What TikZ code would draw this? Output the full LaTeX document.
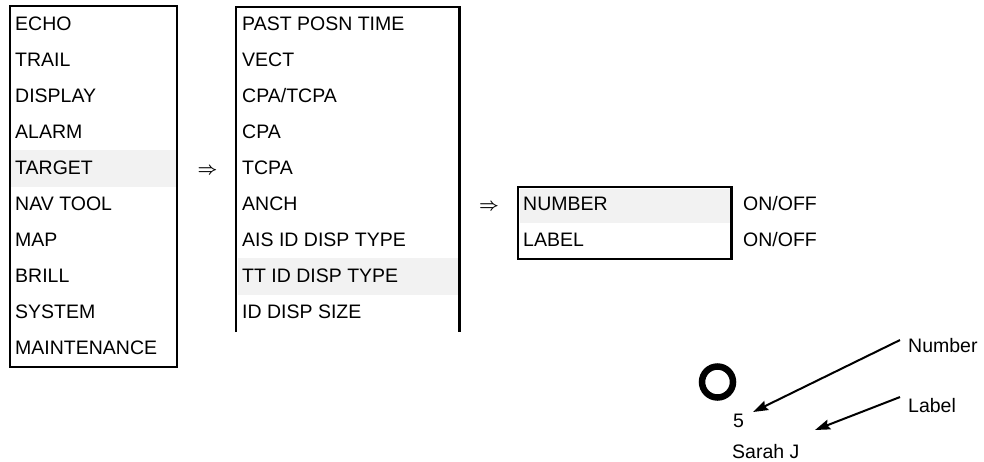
\documentclass[tikz,border=0pt]{standalone}
\usepackage{fontspec}
\setmainfont{Liberation Sans}
\usetikzlibrary{arrows.meta}
\definecolor{hlgray}{HTML}{F2F2F2}
\begin{document}
\begin{tikzpicture}[x=1pt,y=-1pt,
  menutext/.style={anchor=base west, inner sep=0pt, font=\fontsize{19.5}{22}\selectfont},
  frame/.style={line width=2.6pt},
  hl/.style={fill=hlgray, draw=none},
  goto/.style={inner sep=0pt, font=\fontsize{19}{21}\selectfont\boldmath},
  callout/.style={line width=2pt, -{Stealth[length=15pt,width=10pt,inset=2pt]}}]
\useasboundingbox (0,0) rectangle (984,461);
% highlights
\fill[hl] (11,150) rectangle (176,187);
\fill[hl] (237.5,258) rectangle (458,295);
\fill[hl] (519.5,188.5) rectangle (730,223);
% left menu
\foreach \t [count=\i from 0] in {ECHO,TRAIL,DISPLAY,ALARM,TARGET,NAV TOOL,MAP,BRILL,SYSTEM,MAINTENANCE}
  \node[menutext] (m\i) at (15,30+36*\i) {\t};
\draw[frame] (10,6) rectangle (177,367);
% sub menu
\foreach \t [count=\i from 0] in {PAST POSN TIME,VECT,CPA/TCPA,CPA,TCPA,ANCH,AIS ID DISP TYPE,TT ID DISP TYPE,ID DISP SIZE}
  \node[menutext] (s\i) at (242,30+36*\i) {\t};
\draw[frame] (236,332) -- (236,7) -- (459.5,7) -- (459.5,332);
% arrows between menus
\node[goto] (g1) at (207.5,171) {$\Rightarrow$};
\node[goto] (g2) at (489,207) {$\Rightarrow$};
% third box
\node[menutext] (num) at (523,210) {NUMBER};
\node[menutext] (lab) at (523,246) {LABEL};
\draw[frame] (518,187) rectangle (731.5,259);
\node[menutext] (on1) at (743,210) {ON/OFF};
\node[menutext] (on2) at (743,246) {ON/OFF};
% target symbol
\draw[line width=6.5pt] (717.5,382) circle[radius=15.5];
\node[menutext] (five) at (733,427) {5};
\node[menutext] (sarah) at (732,458) {Sarah J};
\node[menutext] (number) at (908,352) {Number};
\node[menutext] (label) at (908,412) {Label};
\coordinate (ntip) at (753,412);
\coordinate (ltip) at (815,430);
\draw[callout] (number.west) ++(-8pt,5pt) -- (ntip);
\draw[callout] (label.west) ++(-8pt,8pt) -- (ltip);
\end{tikzpicture}
\end{document}
